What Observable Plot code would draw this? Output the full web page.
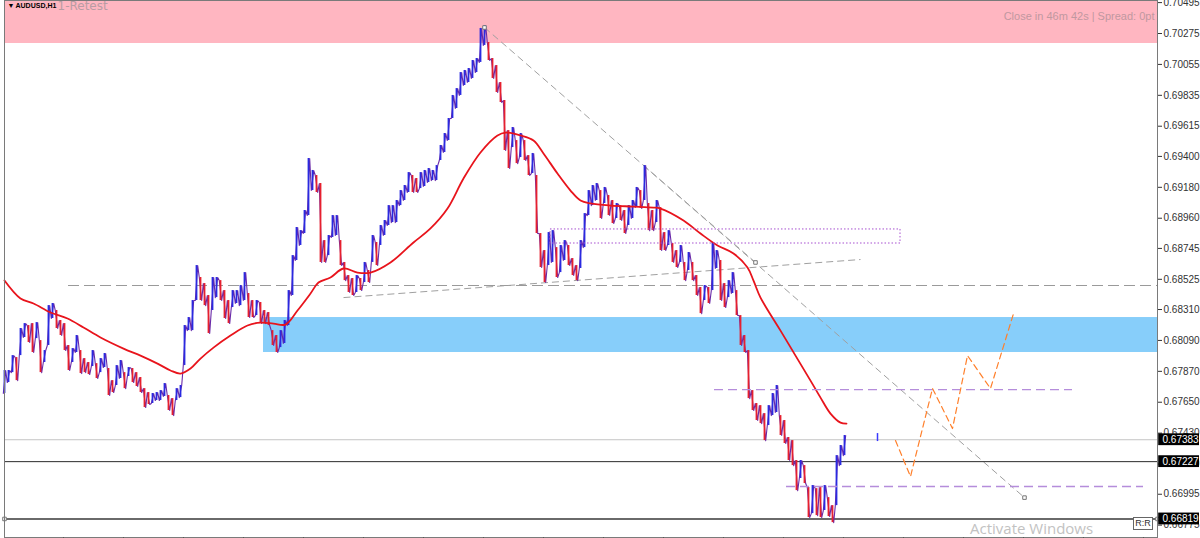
<!DOCTYPE html>
<html><head><meta charset="utf-8">
<script src="https://cdn.jsdelivr.net/npm/d3@7"></script>
<script src="https://cdn.jsdelivr.net/npm/@observablehq/plot@0.6"></script>
<style>
body{margin:0;background:#fff;overflow:hidden}
#chart{position:relative;width:1200px;height:538px}
#chart svg{display:block}
.ovl{position:absolute;white-space:nowrap}
</style>
</head><body><div id="chart"></div>
<script>
// ---- price bars (one per 4-px column), highs and lows ----
const hi = [0.67876,0.67876,0.67982,0.67968,0.68175,0.68210,0.68196,0.68210,0.68217,0.68089,
0.68018,0.68338,0.68353,0.68303,0.68232,0.68210,0.68054,0.68032,0.68125,0.68018,
0.67961,0.67933,0.68018,0.67925,0.67961,0.67997,0.67890,0.67804,0.67911,0.67947,
0.67861,0.67897,0.67890,0.67861,0.67826,0.67747,0.67719,0.67712,0.67719,0.67733,
0.67783,0.67698,0.67676,0.67747,0.67769,0.68196,0.68253,0.68374,0.68623,0.68538,
0.68495,0.68410,0.68538,0.68538,0.68516,0.68445,0.68374,0.68445,0.68445,0.68481,
0.68573,0.68424,0.68374,0.68374,0.68360,0.68303,0.68289,0.68160,0.68125,0.68160,
0.68232,0.68445,0.68694,0.68894,0.68872,0.69015,0.69385,0.69300,0.69264,0.69207,
0.68801,0.68837,0.68979,0.68979,0.68801,0.68645,0.68552,0.68531,0.68552,0.68531,
0.68645,0.68588,0.68837,0.68787,0.68908,0.68944,0.69050,0.69050,0.69086,0.69157,
0.69193,0.69285,0.69264,0.69243,0.69285,0.69300,0.69314,0.69300,0.69335,0.69478,
0.69563,0.69670,0.69834,0.69883,0.69997,0.70012,0.70026,0.70083,0.70097,0.70311,
0.70332,0.70211,0.70097,0.70047,0.69926,0.69798,0.69584,0.69606,0.69513,0.69563,
0.69513,0.69406,0.69421,0.69264,0.68851,0.68730,0.68858,0.68872,0.68751,0.68766,
0.68801,0.68766,0.68673,0.68623,0.68801,0.68993,0.69157,0.69193,0.69207,0.69157,
0.69179,0.69122,0.69086,0.69065,0.69050,0.69015,0.69050,0.69086,0.69179,0.69157,
0.69335,0.69065,0.69015,0.69086,0.69036,0.68858,0.68872,0.68780,0.68730,0.68766,
0.68645,0.68716,0.68645,0.68552,0.68467,0.68481,0.68467,0.68787,0.68730,0.68659,
0.68495,0.68516,0.68573,0.68445,0.68267,0.68125,0.68018,0.67733,0.67641,0.67626,
0.67569,0.67626,0.67712,0.67769,0.67555,0.67520,0.67399,0.67377,0.67235,0.67235,
0.67199,0.67043,0.67057,0.67035,0.67043,0.67057,0.66971,0.66914,0.67270,0.67342,
0.67413];
const lo = [0.67712,0.67790,0.67861,0.67804,0.67982,0.68111,0.68075,0.68004,0.68103,0.67861,
0.67933,0.68054,0.68246,0.68175,0.68125,0.68018,0.67876,0.67933,0.68004,0.67854,
0.67861,0.67847,0.67904,0.67819,0.67861,0.67897,0.67698,0.67719,0.67769,0.67819,
0.67747,0.67833,0.67790,0.67762,0.67719,0.67612,0.67634,0.67641,0.67662,0.67662,
0.67691,0.67591,0.67555,0.67662,0.67683,0.67911,0.68160,0.68160,0.68374,0.68374,
0.68338,0.68139,0.68303,0.68395,0.68374,0.68246,0.68210,0.68324,0.68353,0.68338,
0.68374,0.68253,0.68253,0.68267,0.68210,0.68210,0.68196,0.68054,0.68004,0.68039,
0.68068,0.68196,0.68410,0.68659,0.68766,0.68851,0.68979,0.69157,0.69143,0.68645,
0.68645,0.68694,0.68823,0.68837,0.68623,0.68516,0.68431,0.68410,0.68431,0.68445,
0.68502,0.68502,0.68645,0.68623,0.68766,0.68837,0.68908,0.68929,0.68929,0.69050,
0.69086,0.69143,0.69143,0.69143,0.69171,0.69186,0.69214,0.69228,0.69228,0.69371,
0.69428,0.69513,0.69670,0.69741,0.69834,0.69905,0.69926,0.69955,0.69997,0.70069,
0.70190,0.70083,0.69955,0.69855,0.69784,0.69442,0.69314,0.69463,0.69349,0.69392,
0.69371,0.69264,0.69278,0.68851,0.68609,0.68502,0.68623,0.68645,0.68538,0.68573,
0.68659,0.68623,0.68552,0.68516,0.68602,0.68751,0.68979,0.69050,0.69086,0.68958,
0.69065,0.68979,0.68922,0.68958,0.68944,0.68851,0.68908,0.68958,0.69036,0.69029,
0.69086,0.68872,0.68872,0.68929,0.68730,0.68730,0.68766,0.68645,0.68609,0.68645,
0.68516,0.68588,0.68516,0.68410,0.68281,0.68374,0.68353,0.68445,0.68602,0.68374,
0.68324,0.68395,0.68424,0.68267,0.68054,0.68004,0.67676,0.67591,0.67520,0.67498,
0.67377,0.67484,0.67555,0.67577,0.67413,0.67356,0.67235,0.67199,0.67021,0.67107,
0.67071,0.66829,0.66857,0.66843,0.66829,0.66879,0.66836,0.66793,0.66914,0.67199,
0.67270];

// ---- moving average ----
const maIdx = [0,4,7.25,11.5,15.75,19.75,24,29.75,34,38.25,41.5,44,46.5,49,52.25,56.5,60.75,64,67.25,70.25,
73.25,76.5,78.5,81.5,84.75,88.25,91.5,96.5,102.25,106.5,110.75,114.75,119,123.25,125.25,129,132.25,134.75,138.25,141.5,
144,146.5,151.5,157.25,162.25,164,169.75,174,178.25,182.25,185.75,187.25,189,194,197.75,201.5,204,206.5,209,210.5];
const maVal = [0.68516,0.68388,0.68353,0.68289,0.68246,0.68182,0.68111,0.68032,0.67982,0.67925,0.67876,0.67854,0.67890,0.67961,0.68039,0.68125,0.68196,0.68217,0.68210,0.68203,
0.68303,0.68424,0.68502,0.68538,0.68602,0.68573,0.68573,0.68645,0.68787,0.68887,0.69029,0.69243,0.69428,0.69549,0.69570,0.69549,0.69513,0.69421,0.69278,0.69157,
0.69086,0.69065,0.69050,0.69043,0.69036,0.69029,0.68944,0.68851,0.68766,0.68709,0.68609,0.68516,0.68395,0.68160,0.67982,0.67804,0.67683,0.67569,0.67505,0.67498];

// ---- zones and levels ----
const pinkZone = [0.70204, 0.70510];
const blueZone = [0.68004, 0.68253];
const blueZoneStart = [64.75];
const boxZone = [0.68780, 0.68880];
const boxZoneIdx = [136.5, 224];
const grayLevel = [0.68481];
const grayLevelStart = [16];
const lavLevels = [0.67740, 0.67050];
const lavStart = [177.5, 195.5];
const lavEnd = [267, 284.75];
const markedPrices = [0.67383, 0.67227, 0.66819];

// ---- trend lines ----
const trendX1 = [120, 159.75, 84.75];
const trendY1 = [0.70318, 0.69335, 0.68395];
const trendX2 = [187.75, 255, 214];
const trendY2 = [0.68645, 0.66971, 0.68666];
const squareIdx = [120, 187.75, 255, 0, 288.25];
const squareVal = [0.70318, 0.68645, 0.66971, 0.66819, 0.66819];

// ---- projected path ----
const projIdx = [222.75, 226.5, 232, 237, 240.75, 246.5, 252.25];
const projVal = [0.67377, 0.67121, 0.67748, 0.67463, 0.67982, 0.67748, 0.68281];
const bidTick = [218.25, 0.67370, 0.67427];

// ---- axes ----
const yTicks = [0.70495,0.70275,0.70055,0.69835,0.69615,0.69400,0.69180,0.68960,0.68745,0.68525,0.68310,0.68090,0.67870,0.67650,0.67430,0.67210,0.66995,0.66775];
const xTicks = [14.75,29.75,44.75,59.75,74.75,89.75,104.75,119.75,134.75,149.75,164.75,179.75,194.75,209.75,224.75,239.75,254.75,269.75,284.75];
const xMax = 288.25;
const yMax = 0.70510, yMin = 0.66687;

const bars = hi.map((h, i) => ({
  i, hi: h, lo: lo[i],
  up: i === 0 ? true : (h + lo[i]) >= (hi[i - 1] + lo[i - 1])
}));
// zigzag path through each bar's extremes, in the bar's direction
const zig = bars.flatMap(b => b.up
  ? [{x: b.i - 0.3, y: b.lo}, {x: b.i + 0.3, y: b.hi}]
  : [{x: b.i - 0.3, y: b.hi}, {x: b.i + 0.3, y: b.lo}]);
const ma = maIdx.map((x, k) => ({x, y: maVal[k]}));
const proj = projIdx.map((x, k) => ({x, y: projVal[k]}));
const trends = trendX1.map((x, k) => ({x1: x, y1: trendY1[k], x2: trendX2[k], y2: trendY2[k]}));
const squares = squareIdx.map((x, k) => ({x, y: squareVal[k]}));
const lav = lavLevels.map((y, k) => ({y, x1: lavStart[k], x2: lavEnd[k]}));

const chart = Plot.plot({
  width: 1200, height: 538,
  marginLeft: 4, marginRight: 43, marginTop: 0, marginBottom: 1,
  x: {domain: [0, xMax]},
  y: {domain: [yMin, yMax]},
  style: {background: "white", fontFamily: "Liberation Sans, Arial, sans-serif"},
  marks: [
    Plot.rect([pinkZone], {x1: () => 0, x2: () => xMax, y1: d => d[0], y2: d => d[1], fill: "#ffb6c1"}),
    Plot.rect([blueZone], {x1: () => blueZoneStart[0], x2: () => xMax, y1: d => d[0], y2: d => d[1], fill: "#87cefa"}),
    Plot.ruleY(grayLevel, {y: d => d, x1: () => grayLevelStart[0], x2: () => xMax, stroke: "#9a9a9a", strokeDasharray: "11,5"}),
    Plot.link(trends, {x1: "x1", y1: "y1", x2: "x2", y2: "y2", stroke: "#a0a0a0", strokeDasharray: "7,4"}),
    Plot.ruleY([markedPrices[0]], {stroke: "#c4c4c4"}),
    Plot.ruleY([markedPrices[1]], {stroke: "#2a2a2a"}),
    Plot.ruleY([markedPrices[2]], {stroke: "#6a6a6a", strokeWidth: 2}),
    Plot.line(zig, {x: "x", y: "y", stroke: "#6a2aa8", strokeWidth: 1.1}),
    Plot.ruleX(bars, {x: "i", y1: "lo", y2: "hi", stroke: d => d.up ? "#2a2ae0" : "#e6202e", strokeWidth: 1.8}),
    Plot.line(ma, {x: "x", y: "y", stroke: "#e8141c", strokeWidth: 1.8, curve: "catmull-rom"}),
    Plot.rect([boxZone], {x1: () => boxZoneIdx[0], x2: () => boxZoneIdx[1], y1: d => d[0], y2: d => d[1], fill: "none", stroke: "#a64fd0", strokeDasharray: "1.5,2"}),
    Plot.ruleY(lav, {y: "y", x1: "x1", x2: "x2", stroke: "#b58ddb", strokeWidth: 1.3, strokeDasharray: "9,5"}),
    Plot.line(proj, {x: "x", y: "y", stroke: "#ff7f2a", strokeWidth: 1.2, strokeDasharray: "6,4"}),
    Plot.ruleX([bidTick], {x: d => d[0], y1: d => d[1], y2: d => d[2], stroke: "#3a3aff", strokeWidth: 1.5}),
    Plot.dot(squares, {x: "x", y: "y", symbol: "square", r: 2, fill: "white", stroke: "#777", strokeWidth: 1}),
    Plot.frame({stroke: "#7a7a7a"}),
    Plot.axisY(yTicks, {anchor: "right", tickSize: 4, tickPadding: 2, tickFormat: d => d.toFixed(5), fontSize: 10, color: "#333"}),
    Plot.axisX(xTicks, {anchor: "bottom", tickSize: 3, tickFormat: () => "", color: "#555"}),
    Plot.rect(markedPrices, {x1: () => xMax + 0.3, x2: () => xMax + 10.5, y1: d => d - 0.00042, y2: d => d + 0.00042, fill: "black"}),
    Plot.text(markedPrices, {x: () => xMax, y: d => d, text: d => d.toFixed(5), dx: 5, textAnchor: "start", fill: "white", fontSize: 10}),
    Plot.text(["▼"], {frameAnchor: "top-left", dx: 3, dy: 3, fontSize: 7, fill: "#000", textAnchor: "start", lineAnchor: "top"}),
    Plot.text(["1-Retest"], {frameAnchor: "top-left", dx: 53, dy: 1, fontSize: 12, fill: "#b99ca3", textAnchor: "start", lineAnchor: "top", fontFamily: "DejaVu Sans"}),
    Plot.text(["AUDUSD,H1"], {frameAnchor: "top-left", dx: 11, dy: 3, fontSize: 7, fontWeight: "bold", fill: "#000", textAnchor: "start", lineAnchor: "top"}),
    Plot.text(["Close in 46m 42s | Spread: 0pt"], {frameAnchor: "top-right", dx: -3, dy: 12, fontSize: 11, fill: "#bf98a0", textAnchor: "end", lineAnchor: "top"})
  ]
});
const root = document.getElementById("chart");
root.appendChild(chart);

const act = document.createElement("div");
act.className = "ovl";
act.textContent = "Activate Windows";
act.style.cssText = "left:970px;top:518px;font:15px 'Open Sans',sans-serif;color:#c2c2c2";
root.appendChild(act);
const rr = document.createElement("div");
rr.className = "ovl";
rr.textContent = "R:R";
rr.style.cssText = "left:1133px;top:517px;width:18px;height:11px;border:1px solid #666;background:#fff;font:9px 'Liberation Sans',sans-serif;line-height:11px;text-align:center;color:#333";
root.appendChild(rr);
</script>
</body></html>
